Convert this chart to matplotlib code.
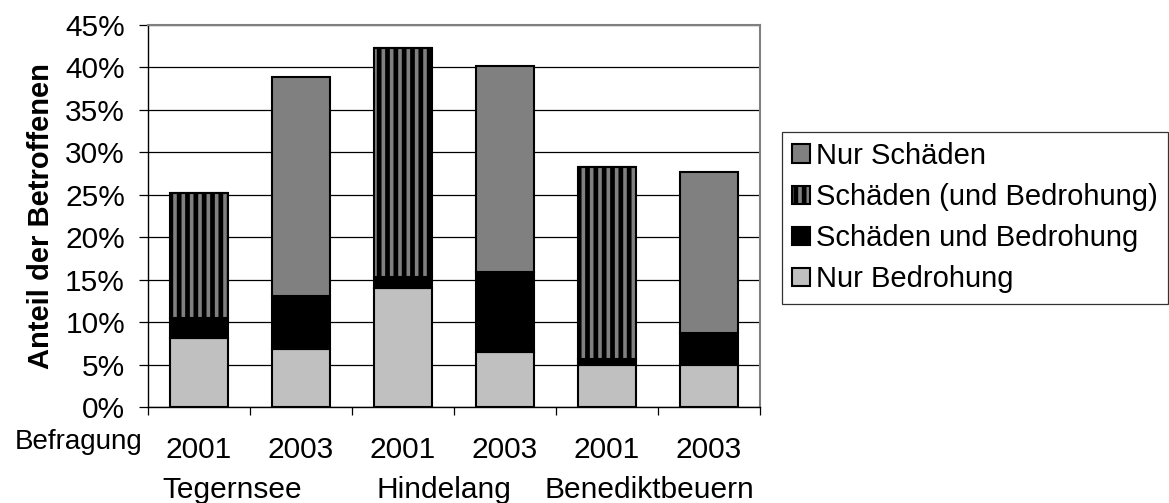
import numpy as np
import matplotlib.pyplot as plt

plt.rcParams["font.family"] = ["Liberation Sans", "DejaVu Sans"]
plt.rcParams["hatch.linewidth"] = 3.4

# survey results, share of respondents in percent
years = ["2001", "2003", "2001", "2003", "2001", "2003"]
places = ["Tegernsee", "Hindelang", "Benediktbeuern"]
nur_bedrohung = [8.1, 6.8, 14.0, 6.5, 5.0, 5.0]
schaeden_und_bedrohung = [2.4, 6.3, 1.3, 9.4, 0.6, 3.7]
schaeden_und_bedr_klammer = [14.7, 0.0, 27.0, 0.0, 22.7, 0.0]
nur_schaeden = [0.0, 25.8, 0.0, 24.3, 0.0, 19.0]

fs = 21.5

fig = plt.figure(figsize=(11.69, 5.03), dpi=100)
ax = fig.add_axes([0.1266, 0.1909, 0.5235, 0.7594])

x = np.arange(len(years))
w = 0.56
edge = dict(edgecolor="black", linewidth=1.5, zorder=3)

b0 = np.array(nur_bedrohung)
b1 = b0 + np.array(schaeden_und_bedrohung)
b2 = b1 + np.array(schaeden_und_bedr_klammer)

h_nb = ax.bar(x, nur_bedrohung, w, color="#c0c0c0", **edge)
h_sub = ax.bar(x, schaeden_und_bedrohung, w, bottom=b0, color="black", **edge)
h_klam = ax.bar(x, schaeden_und_bedr_klammer, w, bottom=b1, color="#808080",
                hatch="||", **edge)
h_ns = ax.bar(x, nur_schaeden, w, bottom=b2, color="#808080", **edge)

ax.set_xlim(-0.5, len(years) - 0.5)
ax.set_ylim(0, 45)
ax.set_yticks(np.arange(0, 46, 5))
ax.set_yticklabels([f"{v}%" for v in range(0, 46, 5)])
ax.yaxis.grid(True, color="black", linewidth=0.9)
ax.set_axisbelow(True)

ax.set_xticks(x)
ax.set_xticklabels(years)
ax.set_xticks(np.arange(-0.5, len(years), 1), minor=True)
ax.tick_params(axis="x", which="major", length=0, pad=21, labelsize=fs)
ax.tick_params(axis="x", which="minor", length=6, width=0.9, direction="out")
ax.tick_params(axis="y", length=6.5, width=0.9, pad=10, labelsize=fs)

for side in ["top", "right"]:
    ax.spines[side].set_color("#808080")
    ax.spines[side].set_linewidth(1.5)
for side in ["left", "bottom"]:
    ax.spines[side].set_color("black")
    ax.spines[side].set_linewidth(1.0)

ax.set_ylabel("Anteil der Betroffenen", fontsize=21, fontweight="bold", labelpad=7)

# place names under each pair of years
for xpos, name in zip([0.33, 2.4, 4.42], places):
    ax.text(xpos, -0.238, name, transform=ax.get_xaxis_transform(),
            ha="center", va="baseline", fontsize=fs)
ax.text(-0.55, -0.110, "Befragung", transform=ax.get_xaxis_transform(),
        ha="right", va="baseline", fontsize=20)

leg = fig.legend([h_ns, h_klam, h_sub, h_nb],
                 ["Nur Schäden", "Schäden (und Bedrohung)",
                  "Schäden und Bedrohung", "Nur Bedrohung"],
                 loc="upper left", bbox_to_anchor=(0.669, 0.738),
                 fontsize=21, frameon=True, fancybox=False,
                 handlelength=0.6, handleheight=0.6, handletextpad=0.2,
                 labelspacing=0.45, borderpad=0.35, borderaxespad=0)
leg.get_frame().set_edgecolor("black")
leg.get_frame().set_linewidth(0.9)

fig.savefig("out.png", dpi=100)
